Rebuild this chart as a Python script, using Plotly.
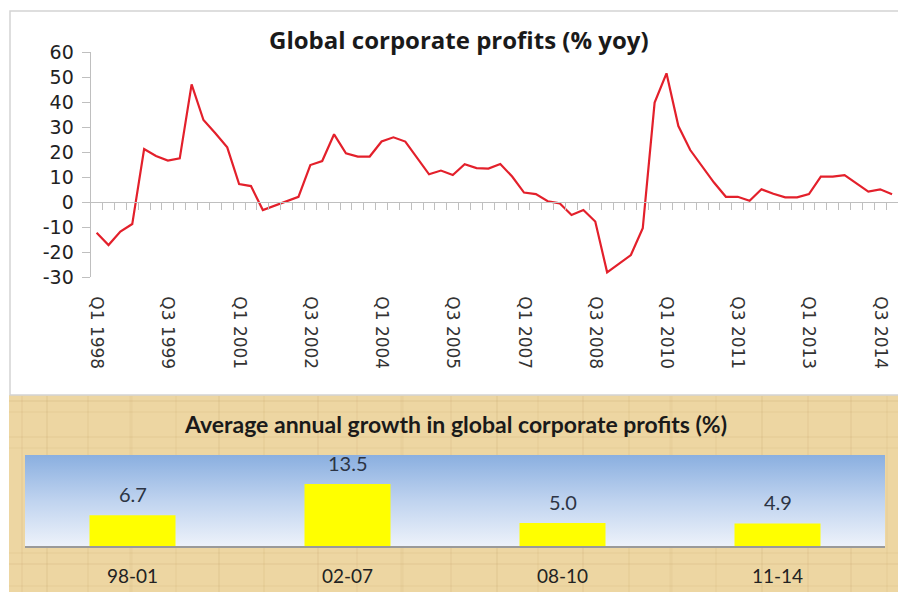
import plotly.graph_objects as go

W, H = 898, 592

# Quarterly series, Q1 1998 .. Q4 2014
quarters = [f"Q{q} {y}" for y in range(1998, 2015) for q in range(1, 5)]
profits_yoy = [
    -12.2, -17.1, -11.7, -8.7, 21.3, 18.5, 16.7, 17.6, 47.2, 32.9,
    27.6, 22.0, 7.3, 6.5, -3.1, -1.3, 0.4, 2.2, 14.9, 16.5,
    27.2, 19.6, 18.3, 18.3, 24.3, 26.0, 24.3, 17.6, 11.2, 12.7,
    10.9, 15.2, 13.7, 13.5, 15.3, 10.3, 3.9, 3.3, 0.4, -0.4,
    -5.1, -3.1, -7.7, -28.0, -24.4, -21.1, -10.4, 39.9, 51.6, 30.5,
    20.9, 14.3, 7.9, 2.2, 2.2, 0.6, 5.2, 3.4, 2.0, 2.0,
    3.3, 10.3, 10.3, 10.9, 7.6, 4.3, 5.2, 3.2,
]
quarter_ticks = ["Q1 1998", "Q3 1999", "Q1 2001", "Q3 2002", "Q1 2004", "Q3 2005",
                 "Q1 2007", "Q3 2008", "Q1 2010", "Q3 2011", "Q1 2013", "Q3 2014"]
y_ticks = [60, 50, 40, 30, 20, 10, 0, -10, -20, -30]
y_tick_text = ["60", "50", "40", "30", "20", "10", "0", "-10", "-20", "-30"]

# Period averages
periods = ["98-01", "02-07", "08-10", "11-14"]
avg_growth = [6.7, 13.5, 5.0, 4.9]


def px_x(p):
    return p / W


def px_y(p):
    return 1 - p / H


Y_MIN, Y_MAX = -30, 60
top_dom = [px_y(277.3), px_y(52.3)]
zero_pos = top_dom[0] + (0 - Y_MIN) / (Y_MAX - Y_MIN) * (top_dom[1] - top_dom[0])
n = len(quarters)
B_MAX = 19.8

GRID = "#bfbfbf"
fig = go.Figure()

# line chart
fig.add_trace(go.Scatter(
    x=list(range(n)), y=profits_yoy, mode="lines",
    line=dict(color="#e3202b", width=2.2),
    xaxis="x", yaxis="y", showlegend=False, hoverinfo="skip",
))
# carrier for the zero-line axis with boundary ticks
fig.add_trace(go.Scatter(
    x=[0], y=[0], mode="markers", marker=dict(opacity=0),
    xaxis="x2", yaxis="y", showlegend=False, hoverinfo="skip",
))

# bar panel background gradient (base subplot)
fig.add_trace(go.Scatter(
    x=[-0.5, len(periods) - 0.5, len(periods) - 0.5, -0.5, -0.5],
    y=[0, 0, B_MAX, B_MAX, 0],
    mode="none", fill="toself",
    fillgradient=dict(type="vertical", start=0, stop=B_MAX,
                      colorscale=[[0, "#edf2fa"], [0.5, "#bfd3ef"], [1, "#8aafe0"]]),
    xaxis="x3", yaxis="y3", showlegend=False, hoverinfo="skip",
))
# bars on an overlaid subplot so they sit above the gradient
fig.add_trace(go.Bar(
    x=list(range(len(periods))), y=avg_growth, width=0.4,
    marker=dict(color="#ffff00", line=dict(width=0)),
    xaxis="x4", yaxis="y4", showlegend=False, hoverinfo="skip",
))

annotations = []
for i, v in enumerate(avg_growth):
    annotations.append(dict(
        x=i, y=v, xref="x4", yref="y4", text=f"{v:.1f}", showarrow=False,
        yanchor="bottom", yshift=7,
        font=dict(family="Lato", size=20, color="#2c3444"),
    ))
annotations += [
    dict(text="<b>Global corporate profits (% yoy)</b>", xref="paper", yref="paper",
         x=px_x(459), y=px_y(40), showarrow=False, xanchor="center", yanchor="middle",
         font=dict(family="Open Sans", size=24, color="#1a1a1a")),
    dict(text="<b>Average annual growth in global corporate profits (%)</b>",
         xref="paper", yref="paper", x=px_x(455), y=px_y(424), showarrow=False,
         xanchor="center", yanchor="middle",
         font=dict(family="Lato", size=23, color="#1a1a1a")),
]

shapes = [
    # parchment band
    dict(type="rect", xref="paper", yref="paper", x0=px_x(9), x1=1.0,
         y0=0, y1=px_y(395), fillcolor="#edd6a2", line=dict(width=0), layer="below"),
    # chart frame
    dict(type="rect", xref="paper", yref="paper", x0=px_x(10), x1=1.01,
         y0=px_y(395), y1=px_y(11), line=dict(color="#d4d4d4", width=1.5),
         fillcolor="rgba(0,0,0,0)", layer="below"),
]
# faint fibres in the parchment
fibres_v = [(22, 1, 0.14), (47, 2, 0.10), (88, 1, 0.16), (131, 3, 0.08), (176, 1, 0.12),
            (219, 2, 0.10), (264, 1, 0.15), (318, 2, 0.09), (357, 1, 0.13), (402, 3, 0.08),
            (451, 1, 0.14), (497, 2, 0.10), (538, 1, 0.12), (583, 2, 0.09), (629, 1, 0.15),
            (671, 3, 0.08), (716, 1, 0.12), (762, 2, 0.10), (808, 1, 0.14), (851, 2, 0.09),
            (887, 1, 0.12)]
for xv, w, a in fibres_v:
    shapes.append(dict(type="line", xref="paper", yref="paper",
                       x0=px_x(xv), x1=px_x(xv), y0=0, y1=px_y(396),
                       line=dict(color=f"rgba(175,135,75,{a})", width=w), layer="below"))
fibres_h = [(401, 2, 0.10), (412, 1, 0.12), (437, 2, 0.08), (448, 1, 0.10),
            (553, 1, 0.12), (564, 2, 0.09), (586, 1, 0.12)]
for yv, w, a in fibres_h:
    shapes.append(dict(type="line", xref="paper", yref="paper",
                       x0=px_x(9), x1=1, y0=px_y(yv), y1=px_y(yv),
                       line=dict(color=f"rgba(175,135,75,{a})", width=w), layer="below"))

fig.update_layout(
    width=W, height=H,
    margin=dict(l=0, r=0, t=0, b=0, autoexpand=False),
    paper_bgcolor="white", plot_bgcolor="rgba(0,0,0,0)",
    shapes=shapes, annotations=annotations,
    xaxis=dict(
        domain=[px_x(90.7), 1.0], range=[-0.5, n - 0.5], anchor="y", automargin=False,
        tickmode="array", tickvals=[quarters.index(t) for t in quarter_ticks],
        ticktext=quarter_ticks, tickangle=90, ticks="", ticklabelstandoff=18,
        showline=False, showgrid=False, zeroline=False,
        tickfont=dict(family="DejaVu Sans", size=17, color="#333333"),
    ),
    xaxis2=dict(
        overlaying="x", anchor="free", position=zero_pos, automargin=False,
        range=[-0.5, n - 0.5], showline=True, linecolor=GRID, linewidth=1.3,
        tickmode="array", tickvals=[i + 0.5 for i in range(n)],
        ticks="outside", ticklen=7, tickcolor=GRID, tickwidth=1.3,
        showticklabels=False, showgrid=False, zeroline=False,
    ),
    yaxis=dict(
        domain=top_dom, range=[Y_MIN, Y_MAX], anchor="x", automargin=False,
        tickmode="array", tickvals=y_ticks, ticktext=y_tick_text,
        ticks="outside", ticklen=8, ticklabelstandoff=4,
        tickcolor=GRID, tickwidth=1.3, showline=True, linecolor=GRID, linewidth=1.3,
        showgrid=False, zeroline=False,
        tickfont=dict(family="DejaVu Sans", size=19, color="#222222"),
    ),
    xaxis3=dict(
        domain=[px_x(25), px_x(885)], range=[-0.5, len(periods) - 0.5], anchor="y3",
        automargin=False,
        tickmode="array", tickvals=list(range(len(periods))), ticktext=periods,
        ticks="", ticklabelstandoff=12, showline=True, linecolor="#9a9a9a", linewidth=1.5,
        showgrid=False, zeroline=False,
        tickfont=dict(family="Lato", size=19, color="#222222"),
    ),
    yaxis3=dict(
        domain=[px_y(546), px_y(455)], range=[0, B_MAX], anchor="x3", automargin=False,
        visible=False, showgrid=False, zeroline=False,
    ),
    xaxis4=dict(
        overlaying="x3", anchor="y4", range=[-0.5, len(periods) - 0.5], automargin=False,
        visible=False, showgrid=False, zeroline=False,
    ),
    yaxis4=dict(
        overlaying="y3", anchor="x4", range=[0, B_MAX], automargin=False,
        visible=False, showgrid=False, zeroline=False,
    ),
)

fig.write_html("out.html")
